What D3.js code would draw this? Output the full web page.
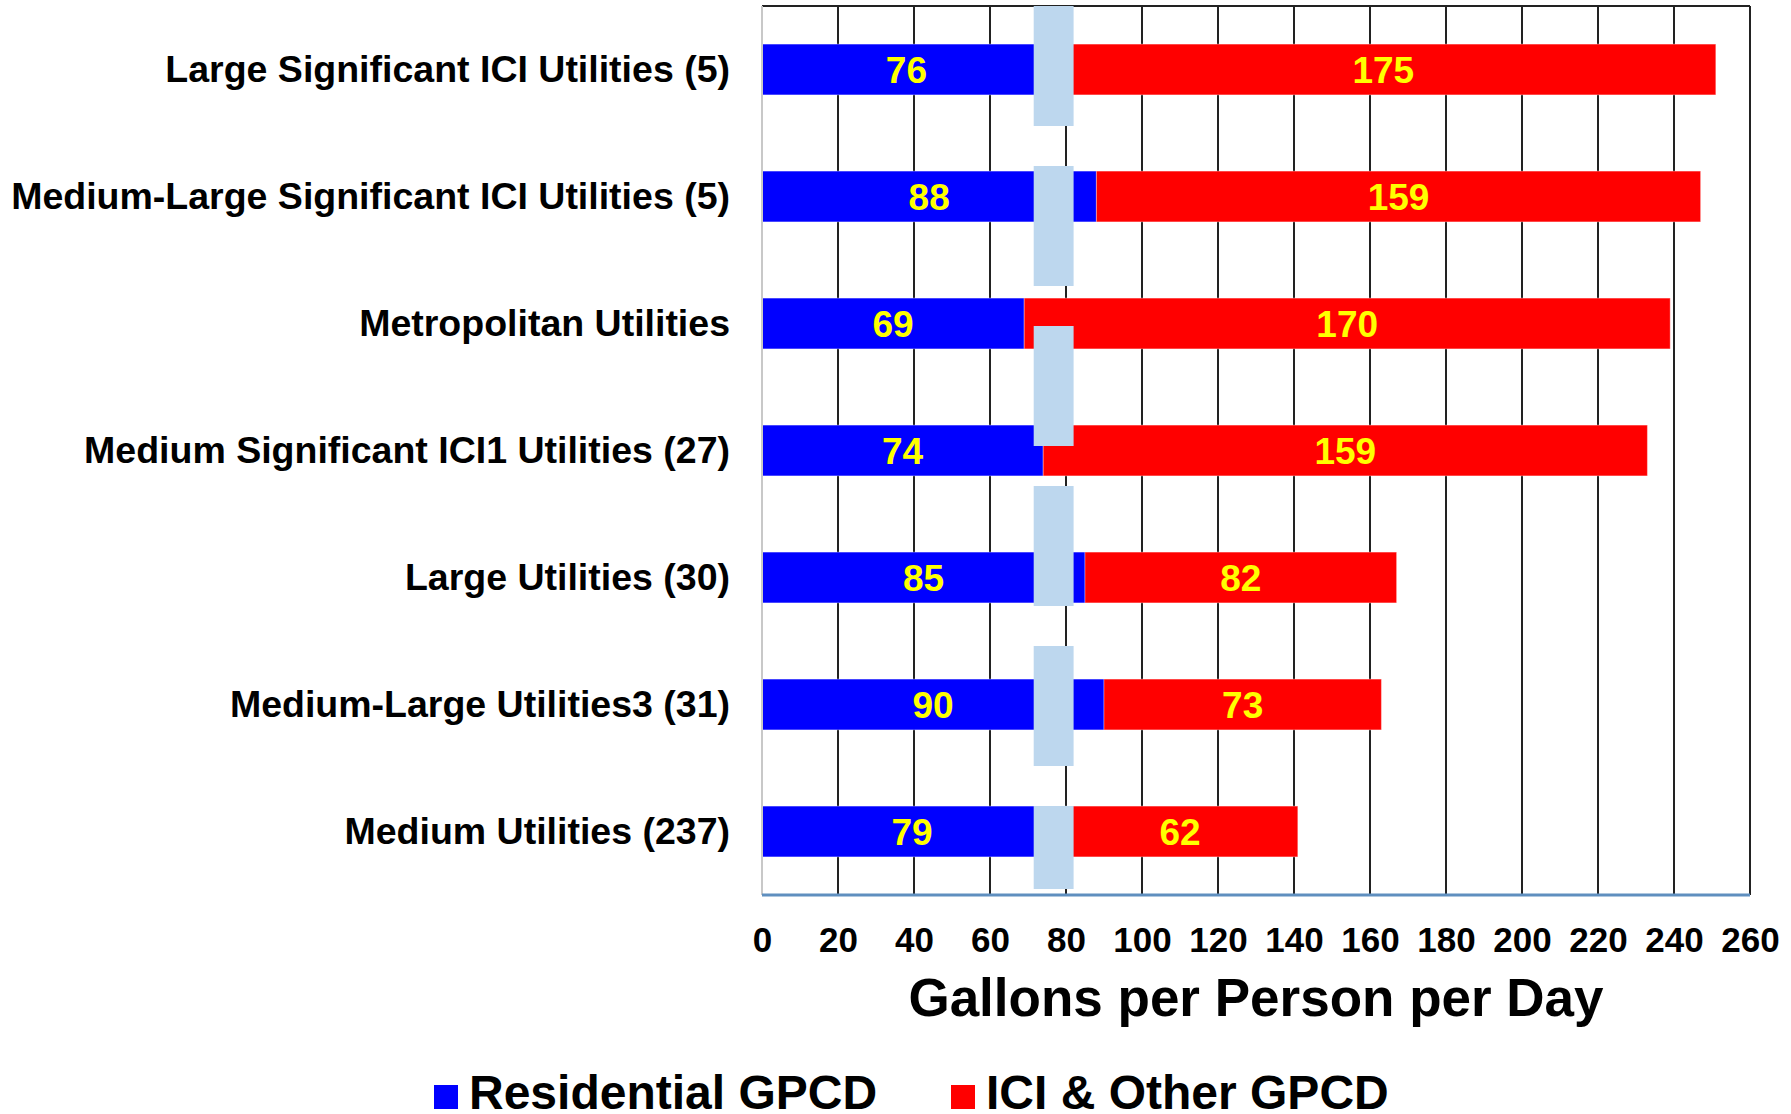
<!DOCTYPE html>
<html>
<head>
<meta charset="utf-8">
<script src="https://cdn.jsdelivr.net/npm/d3@7"></script>
<style>
    body { margin: 0; background: #fff; }
    text { font-family: "Liberation Sans", Arial, sans-serif; font-weight: bold; }
</style>
</head>
<body>
<div id="chart"></div>
<script>
var categories = [
    "Large Significant ICI Utilities (5)",
    "Medium-Large Significant ICI Utilities (5)",
    "Metropolitan Utilities",
    "Medium Significant ICI1 Utilities (27)",
    "Large Utilities (30)",
    "Medium-Large Utilities3 (31)",
    "Medium Utilities (237)"
];
var residential = [76, 88, 69, 74, 85, 90, 79];
var iciOther = [175, 159, 170, 159, 82, 73, 62];
var seriesNames = ["Residential GPCD", "ICI & Other GPCD"];
var tickValues = [0, 20, 40, 60, 80, 100, 120, 140, 160, 180, 200, 220, 240, 260];
// pale band drawn over the bars (axis-break style marker), in axis units
var breakBand = [71.5, 82];

var chart = (function () {
    var W = 1791, H = 1114,
        left = 762, right = 1750, top = 6, bottom = 895,
        colors = ["#0000ff", "#ff0000"];

    var svg = d3.select("#chart").append("svg").attr("width", W).attr("height", H);

    var x = d3.scaleLinear().domain([0, 260]).range([left, right]);
    var y = d3.scaleBand().domain(categories).range([top, bottom]).paddingInner(0.6).paddingOuter(0.3);

    // vertical gridlines
    svg.append("g")
        .selectAll("line")
        .data(tickValues.slice(1))
        .enter()
        .append("line")
        .attr("x1", function (d) { return x(d); })
        .attr("x2", function (d) { return x(d); })
        .attr("y1", top)
        .attr("y2", bottom)
        .attr("stroke", "#222")
        .attr("stroke-width", 2);

    // top border
    svg.append("line").attr("x1", left).attr("x2", right).attr("y1", top).attr("y2", top)
        .attr("stroke", "#222").attr("stroke-width", 2);

    var rows = categories.map(function (c, i) {
        return { cat: c, res: residential[i], ici: iciOther[i] };
    });

    var g = svg.append("g");
    rows.forEach(function (r) {
        var segs = [
            { x0: 0, x1: r.res, v: r.res, c: colors[0] },
            { x0: r.res, x1: r.res + r.ici, v: r.ici, c: colors[1] }
        ];
        segs.forEach(function (s) {
            g.append("rect")
                .attr("x", x(s.x0))
                .attr("y", y(r.cat))
                .attr("width", x(s.x1) - x(s.x0))
                .attr("height", y.bandwidth())
                .attr("fill", s.c)
                .attr("stroke", "rgba(255,255,255,0.35)")
                .attr("stroke-width", 1);
        });
    });

    // pale dashed band
    svg.append("line")
        .attr("x1", x((breakBand[0] + breakBand[1]) / 2))
        .attr("x2", x((breakBand[0] + breakBand[1]) / 2))
        .attr("y1", top)
        .attr("y2", bottom - 6)
        .attr("stroke", "#bdd7ee")
        .attr("stroke-width", x(breakBand[1]) - x(breakBand[0]))
        .attr("stroke-dasharray", "120,40");

    // value labels
    rows.forEach(function (r) {
        [[r.res / 2, r.res], [r.res + r.ici / 2, r.ici]].forEach(function (p) {
            svg.append("text")
                .attr("x", x(p[0]))
                .attr("y", y(r.cat) + y.bandwidth() / 2)
                .attr("dy", "0.36em")
                .attr("text-anchor", "middle")
                .attr("fill", "#ffff00")
                .style("font-size", "37px")
                .text(p[1]);
        });
    });

    // left and bottom axis lines
    svg.append("line").attr("x1", left).attr("x2", left).attr("y1", top).attr("y2", bottom)
        .attr("stroke", "#c8c8c8").attr("stroke-width", 2);
    svg.append("line").attr("x1", left).attr("x2", right).attr("y1", bottom).attr("y2", bottom)
        .attr("stroke", "#5f8fbf").attr("stroke-width", 3);

    // x tick labels
    var xAxis = d3.axisBottom(x).tickValues(tickValues).tickSize(0).tickPadding(0);
    var ax = svg.append("g").attr("transform", "translate(0," + 952 + ")").call(xAxis);
    ax.select(".domain").remove();
    ax.selectAll("text").attr("dy", 0).attr("y", 0).attr("fill", "#000")
        .style("font-size", "35px").style("font-family", "'Liberation Sans', Arial, sans-serif");

    // category labels
    var yAxis = d3.axisLeft(y).tickSize(0).tickPadding(0);
    var ay = svg.append("g").attr("transform", "translate(" + 730 + ",0)").call(yAxis);
    ay.select(".domain").remove();
    ay.selectAll("text").attr("fill", "#000")
        .style("font-size", "37.5px").style("font-family", "'Liberation Sans', Arial, sans-serif");

    // axis title
    svg.append("text")
        .attr("x", (left + right) / 2)
        .attr("y", 1016)
        .attr("text-anchor", "middle")
        .style("font-size", "53px")
        .text("Gallons per Person per Day");

    // legend
    var legendX = [434, 951];
    seriesNames.forEach(function (n, i) {
        svg.append("rect").attr("x", legendX[i]).attr("y", 1085).attr("width", 24).attr("height", 24)
            .attr("fill", colors[i]);
        svg.append("text").attr("x", legendX[i] + 35).attr("y", 1109)
            .style("font-size", "48px").text(n);
    });
})();
</script>
</body>
</html>
